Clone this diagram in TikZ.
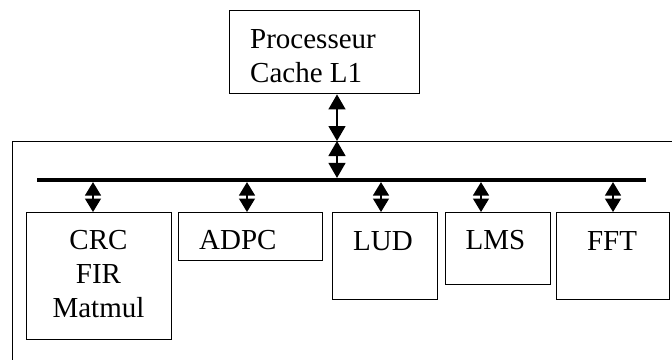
\documentclass[tikz,border=0pt]{standalone}
\usepackage{fontspec}
\setmainfont{Liberation Serif}
\usetikzlibrary{arrows.meta}
\begin{document}
\begin{tikzpicture}[x=1pt,y=-1pt,
  box/.style={draw, line width=1.4pt, inner sep=0pt, anchor=north west},
  lbl/.style={font=\fontsize{29}{34}\selectfont, inner sep=0pt},
  dbl/.style={line width=1.4pt, >={Triangle[width=17pt,length=15pt]}, <->},
  dblshort/.style={line width=1.4pt, >={Triangle[width=16pt,length=13.5pt]}, <->}]
\useasboundingbox (0,0) rectangle (672,359);
\clip (0,0) rectangle (672,359);
% outer system box (only left and top edges visible)
\node[box, minimum width=700pt, minimum height=260pt] (sys) at (12,141) {};
% processor
\node[box, minimum width=190pt, minimum height=83pt] (proc) at (229,10) {};
\node[lbl, anchor=base west] (proct1) at (250,48) {Processeur};
\node[lbl, anchor=base west] (proct2) at (250,82) {Cache L1};
% bus
\node[fill, inner sep=0pt, minimum width=609pt, minimum height=3.8pt, anchor=west] (bus) at (37,180) {};
% blocks
\node[box, minimum width=145pt, minimum height=127pt] (crc) at (26,212) {};
\node[lbl, anchor=base] (crct1) at (98.5,249) {CRC};
\node[lbl, anchor=base] (crct2) at (98.5,283) {FIR};
\node[lbl, anchor=base] (crct3) at (98.5,317) {Matmul};
\node[box, minimum width=144pt, minimum height=48pt] (adpc) at (178,212) {};
\node[lbl, anchor=base west] (adpct) at (199,249) {ADPC};
\node[box, minimum width=105pt, minimum height=87pt] (lud) at (332,212) {};
\node[lbl, anchor=base] (ludt) at (383,250) {LUD};
\node[box, minimum width=105pt, minimum height=72pt] (lms) at (445,212) {};
\node[lbl, anchor=base] (lmst) at (495.5,249) {LMS};
\node[box, minimum width=113pt, minimum height=87pt] (fft) at (556,212) {};
\node[lbl, anchor=base] (fftt) at (612,250) {FFT};
% connector x positions
\coordinate (a0) at (337,0);
\coordinate (a1) at (93,0);
\coordinate (a2) at (247,0);
\coordinate (a3) at (381,0);
\coordinate (a4) at (481,0);
\coordinate (a5) at (613,0);
% arrows
\draw[dbl] (proc.south -| a0) -- (sys.north -| a0);
\draw[dbl] (sys.north -| a0) -- (bus.north -| a0);
\draw[dblshort] (bus.south -| a1) -- (crc.north -| a1);
\draw[dblshort] (bus.south -| a2) -- (adpc.north -| a2);
\draw[dblshort] (bus.south -| a3) -- (lud.north -| a3);
\draw[dblshort] (bus.south -| a4) -- (lms.north -| a4);
\draw[dblshort] (bus.south -| a5) -- (fft.north -| a5);
\end{tikzpicture}
\end{document}
